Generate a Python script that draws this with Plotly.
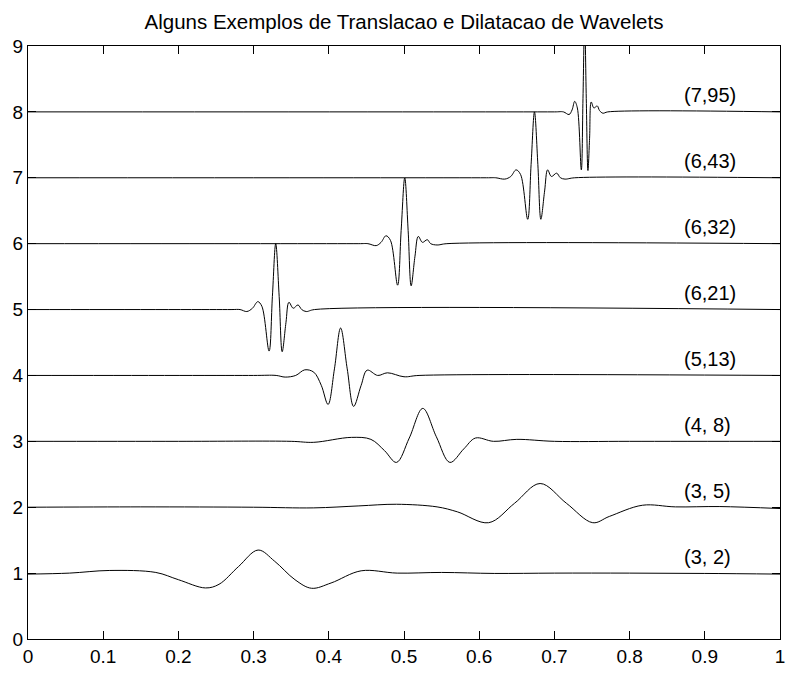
import plotly.graph_objects as go

# Wavelet (j, k) samples, each drawn on its own baseline offset
x_3_2 = [0, 0.055, 0.108, 0.17, 0.20, 0.236, 0.254, 0.28, 0.306, 0.328, 0.355, 0.377, 0.403, 0.443, 0.491, 0.55, 0.62, 0.7, 0.8, 0.9, 1.0]
y_3_2 = [0.985, 1.0, 1.04, 1.01, 0.90, 0.775, 0.83, 1.10, 1.35, 1.18, 0.90, 0.77, 0.85, 1.035, 1.0, 1.01, 0.995, 1.0, 1.0, 0.995, 0.985]

x_3_5 = [0, 0.15, 0.3, 0.38, 0.44, 0.49, 0.544, 0.571, 0.6125, 0.647, 0.681, 0.716, 0.751, 0.773, 0.817, 0.861, 0.92, 1.0]
y_3_5 = [2.0, 2.005, 2.0, 1.99, 2.02, 2.045, 2.005, 1.93, 1.765, 2.06, 2.36, 2.06, 1.765, 1.86, 2.03, 2.005, 2.01, 1.98]

x_4_8 = [0, 0.2, 0.35, 0.38, 0.43, 0.456, 0.474, 0.490, 0.507, 0.525, 0.543, 0.561, 0.5795, 0.595, 0.619, 0.650, 0.7, 0.8, 1.0]
y_4_8 = [3.0, 3.0, 3.0, 2.985, 3.06, 3.03, 2.86, 2.68, 3.05, 3.50, 3.07, 2.68, 2.885, 3.05, 3.0, 3.03, 3.0, 3.0, 3.0]

x_5_13 = [0, 0.3, 0.33, 0.342, 0.356, 0.368, 0.38, 0.39, 0.399, 0.4075, 0.4157, 0.4245, 0.433, 0.443, 0.451, 0.465, 0.478, 0.50, 0.52, 1.0]
y_5_13 = [4.0, 4.0, 4.0, 3.975, 4.0, 4.085, 4.05, 3.85, 3.56, 4.1, 4.72, 4.1, 3.53, 3.85, 4.08, 4.0, 4.04, 3.98, 4.0, 4.0]

x_6_21 = [0, 0.27, 0.282, 0.291, 0.2985, 0.3056, 0.311, 0.3206, 0.325, 0.3294, 0.334, 0.338, 0.343, 0.347, 0.3527, 0.359, 0.364, 0.370, 0.381, 1.0]
y_6_21 = [5.0, 5.0, 5.0, 4.97, 5.02, 5.12, 5.05, 4.37, 5.2, 6.0, 5.2, 4.36, 4.8, 5.11, 5.02, 5.07, 5.0, 4.97, 5.0, 5.0]

x_6_32 = [0, 0.44, 0.452, 0.463, 0.4695, 0.476, 0.482, 0.4915, 0.4962, 0.501, 0.5055, 0.5095, 0.5145, 0.519, 0.5245, 0.531, 0.5355, 0.544, 0.557, 1.0]
y_6_32 = [6.0, 6.0, 6.0, 5.97, 6.02, 6.12, 6.05, 5.37, 6.2, 7.0, 6.2, 5.36, 5.8, 6.11, 6.02, 6.06, 6.0, 5.98, 6.0, 6.0]

x_6_43 = [0, 0.61, 0.622, 0.634, 0.642, 0.649, 0.655, 0.6645, 0.669, 0.6735, 0.678, 0.682, 0.687, 0.691, 0.696, 0.703, 0.708, 0.714, 0.727, 1.0]
y_6_43 = [7.0, 7.0, 7.0, 6.98, 7.02, 7.12, 7.05, 6.37, 7.2, 8.0, 7.2, 6.37, 6.8, 7.12, 7.02, 7.07, 7.0, 6.98, 7.0, 7.0]

x_7_95 = [0, 0.70, 0.712, 0.7195, 0.7235, 0.727, 0.7305, 0.7358, 0.738, 0.7402, 0.7424, 0.7446, 0.7468, 0.749, 0.7525, 0.757, 0.760, 0.7645, 0.771, 1.0]
y_7_95 = [8.0, 8.0, 8.0, 7.96, 8.03, 8.16, 8.06, 7.12, 8.2, 9.41, 8.2, 7.11, 7.6, 8.15, 8.06, 8.09, 8.02, 7.98, 8.0, 8.0]

series = [
    ("(3, 2)", x_3_2, y_3_2, 1),
    ("(3, 5)", x_3_5, y_3_5, 2),
    ("(4, 8)", x_4_8, y_4_8, 3),
    ("(5,13)", x_5_13, y_5_13, 4),
    ("(6,21)", x_6_21, y_6_21, 5),
    ("(6,32)", x_6_32, y_6_32, 6),
    ("(6,43)", x_6_43, y_6_43, 7),
    ("(7,95)", x_7_95, y_7_95, 8),
]

x_ticks = [0, 0.1, 0.2, 0.3, 0.4, 0.5, 0.6, 0.7, 0.8, 0.9, 1]
x_tick_text = ["0", "0.1", "0.2", "0.3", "0.4", "0.5", "0.6", "0.7", "0.8", "0.9", "1"]
y_ticks = [0, 1, 2, 3, 4, 5, 6, 7, 8, 9]

label_x = 0.87
label_lift = 0.25

FONT = "Liberation Sans, Arial, Helvetica, sans-serif"

fig = go.Figure()
annotations = []
for name, xs, ys, base in series:
    fig.add_trace(go.Scatter(
        x=xs, y=ys, mode="lines", name=name,
        line=dict(color="black", width=1, shape="spline", smoothing=1.0),
        showlegend=False, hoverinfo="skip",
    ))
    annotations.append(dict(
        x=label_x, y=base + label_lift, xref="x", yref="y",
        text=name, showarrow=False, xanchor="left", yanchor="middle",
        font=dict(family=FONT, size=20, color="black"),
    ))

axis_common = dict(
    showline=True, linecolor="black", linewidth=1, mirror="ticks",
    ticks="inside", ticklen=8, tickcolor="black", tickwidth=1,
    showgrid=False, zeroline=False,
    tickfont=dict(family=FONT, size=19, color="black"),
)

fig.update_layout(
    width=791, height=673,
    margin=dict(l=28, r=6, t=46, b=30),
    paper_bgcolor="white", plot_bgcolor="white",
    title=dict(
        text="Alguns Exemplos de Translacao e Dilatacao de Wavelets",
        xref="paper", x=0.5, xanchor="center",
        yref="container", y=1 - 22 / 673, yanchor="middle",
        font=dict(family=FONT, size=20.5, color="black"),
    ),
    xaxis=dict(range=[0, 1], tickvals=x_ticks, ticktext=x_tick_text, **axis_common),
    yaxis=dict(range=[0, 9], tickvals=y_ticks, **axis_common),
    annotations=annotations,
)

fig.write_html("out.html")
